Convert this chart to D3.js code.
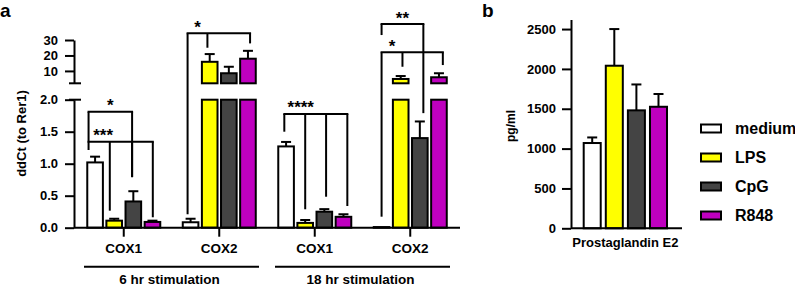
<!DOCTYPE html>
<html><head><meta charset="utf-8">
<script src="https://cdn.jsdelivr.net/npm/d3@7"></script>
<style>
body{margin:0;background:#fff}
svg{display:block}
text{font-family:"Liberation Sans",Arial,sans-serif;font-weight:bold;fill:#000}
</style>
</head><body>
<svg id="chart" width="795" height="287"></svg>
<script>
// ---------- data ----------
const series = ["medium", "LPS", "CpG", "R848"];
const seriesColors = ["#ffffff", "#ffff00", "#444444", "#bf00bf"];
const groups = ["6h COX1", "6h COX2", "18h COX1", "18h COX2"];
const groupLabels = ["COX1", "COX2", "COX1", "COX2"];
const stimulations = ["6 hr stimulation", "18 hr stimulation"];

const mediumVals = [1.02, 0.085, 1.27, 0.01];
const mediumErr  = [0.09, 0.055, 0.07, 0];
const lpsVals    = [0.11, 15.9, 0.075, 4.8];
const lpsErr     = [0.03, 5.0, 0.045, 1.9];
const cpgVals    = [0.41, 8.5, 0.25, 1.40];
const cpgErr     = [0.16, 4.2, 0.04, 0.26];
const r848Vals   = [0.09, 17.9, 0.17, 5.9];
const r848Err    = [0.02, 5.1, 0.04, 2.6];

const lowerTicks = [0, 0.5, 1.0, 1.5, 2.0];
const upperTicks = [10, 20, 30];

const pgeVals  = [1070, 2040, 1480, 1525];
const pgeErr   = [70, 460, 325, 160];
const pgeTicks = [0, 500, 1000, 1500, 2000, 2500];

// significance brackets: legs = [seriesIndex, position within bar, leg end value]
const brackets = [
  {group: 0, label: "*",    top: 1.81,  legs: [[0, 0.13, 1.343], [2, 0.43, 0.79]]},
  {group: 0, label: "***",  top: 1.343, legs: [[0, 0.13, 1.214], [1, 0.25, 0.266], [2, 0.43, 0.79], [3, 0.52, 0.163]], dx: 4},
  {group: 1, label: "*",    top: 34.3,  legs: [[0, 0.33, 0.21], [1, 0.37, 25.0], [3, 0.62, 27.8]]},
  {group: 2, label: "****", top: 1.777, legs: [[0, 0.40, 1.5], [1, 0.5, 0.288], [2, 0.6, 0.484], [3, 0.72, 0.339]], dx: 6},
  {group: 3, label: "**",   top: 40.3,  legs: [[0, 0.5, 33.2], [2, 0.7, 1.79]]},
  {group: 3, label: "*",    top: 22.0,  legs: [[0, 0.5, 0.172], [1, 0.6, 12.7], [3, 0.72, 13.8]]}
];

const vals = [mediumVals, lpsVals, cpgVals, r848Vals];
const errs = [mediumErr, lpsErr, cpgErr, r848Err];

// ---------- setup ----------
const svg = d3.select("#chart");
const FONT = '"Liberation Sans", Arial, sans-serif';
const SW = 2;

// ---------- panel a ----------
const x0 = d3.scaleBand().domain(groups).range([76, 458]).paddingInner(0.215).paddingOuter(0.1075);
const x1 = d3.scaleBand().domain(series).range([1, 74]).paddingInner(0.183);
const yLow = d3.scaleLinear().domain([0, 2]).range([227.7, 99.7]);
const yUp = d3.scaleLinear().domain([2, 30]).range([83.3, 40]);
const yv = v => v > 2 ? yUp(v) : yLow(v);
const axX = 74;

const gA = svg.append("g");

groups.forEach((g, gi) => {
  series.forEach((s, si) => {
    const v = vals[si][gi], e = errs[si][gi];
    const x = x0(g) + x1(s), w = x1.bandwidth();
    const segs = v > 2 ? [[yLow(2), yLow(0)], [yUp(v), yUp(2)]] : [[yLow(v), yLow(0)]];
    segs.forEach(([t, b]) => {
      gA.append("rect").attr("x", x).attr("y", t).attr("width", w).attr("height", b - t)
        .attr("fill", seriesColors[si]).attr("stroke", "#000").attr("stroke-width", SW);
    });
    if (e > 0) {
      const cx = x + w / 2;
      gA.append("line").attr("x1", cx).attr("x2", cx).attr("y1", yv(v)).attr("y2", yv(v + e))
        .attr("stroke", "#000").attr("stroke-width", SW);
      gA.append("line").attr("x1", cx - 5).attr("x2", cx + 5).attr("y1", yv(v + e)).attr("y2", yv(v + e))
        .attr("stroke", "#000").attr("stroke-width", SW);
    }
  });
});

// brackets
brackets.forEach(b => {
  const gx = x0(groups[b.group]);
  const xs = b.legs.map(l => gx + x1(series[l[0]]) - 1 + l[1] * (x1.bandwidth() + 2));
  const yt = yv(b.top);
  gA.append("line").attr("x1", d3.min(xs) - 1).attr("x2", d3.max(xs) + 1).attr("y1", yt).attr("y2", yt)
    .attr("stroke", "#000").attr("stroke-width", SW);
  b.legs.forEach((l, i) => {
    gA.append("line").attr("x1", xs[i]).attr("x2", xs[i]).attr("y1", yt).attr("y2", yv(l[2]))
      .attr("stroke", "#000").attr("stroke-width", SW);
  });
  gA.append("text").attr("x", (xs[0] + xs[1]) / 2 + (b.dx || 0)).attr("y", yt - 0.5)
    .attr("text-anchor", "middle").attr("font-size", 17).text(b.label);
});

// y axes (broken)
const axLow = gA.append("g").attr("transform", `translate(${axX},0)`)
  .call(d3.axisLeft(yLow).tickValues(lowerTicks).tickFormat(d3.format(".1f")).tickSize(9).tickPadding(7).tickSizeOuter(0));
const axUp = gA.append("g").attr("transform", `translate(${axX},0)`)
  .call(d3.axisLeft(yUp).tickValues(upperTicks).tickFormat(d3.format("d")).tickSize(9).tickPadding(7).tickSizeOuter(0));
[axLow, axUp].forEach(a => {
  a.attr("font-size", 13).attr("font-family", FONT);
  a.selectAll("path,line").attr("stroke", "#000").attr("stroke-width", SW);
  a.selectAll("text").attr("fill", "#000");
});
[yUp(2), yLow(2)].forEach(yy => {
  gA.append("line").attr("x1", axX - 5).attr("x2", axX + 7).attr("y1", yy).attr("y2", yy)
    .attr("stroke", "#000").attr("stroke-width", SW);
});

// x axis
gA.append("line").attr("x1", axX).attr("x2", 460).attr("y1", yLow(0)).attr("y2", yLow(0))
  .attr("stroke", "#000").attr("stroke-width", SW);
groups.forEach((g, gi) => {
  const cx = x0(g) + x0.bandwidth() / 2;
  gA.append("line").attr("x1", cx).attr("x2", cx).attr("y1", yLow(0)).attr("y2", yLow(0) + 9)
    .attr("stroke", "#000").attr("stroke-width", SW);
  gA.append("text").attr("x", cx).attr("y", 253.3).attr("text-anchor", "middle")
    .attr("font-size", 13.5).text(groupLabels[gi]);
});
stimulations.forEach((s, i) => {
  const c1 = x0(groups[i * 2]) + x0.bandwidth() / 2, c2 = x0(groups[i * 2 + 1]) + x0.bandwidth() / 2;
  const mid = (c1 + c2) / 2;
  gA.append("line").attr("x1", mid - 87.5).attr("x2", mid + 87.5).attr("y1", 266.7).attr("y2", 266.7)
    .attr("stroke", "#000").attr("stroke-width", SW);
  gA.append("text").attr("x", mid - 2).attr("y", 284).attr("text-anchor", "middle")
    .attr("font-size", 13.5).text(s);
});

gA.append("text").attr("transform", "translate(26,133.5) rotate(-90)").attr("text-anchor", "middle")
  .attr("font-size", 13).text("ddCt (to Rer1)");
svg.append("text").attr("x", 0).attr("y", 17).attr("font-size", 19).text("a");

// ---------- panel b ----------
const gB = svg.append("g");
const xB = d3.scaleBand().domain(series).range([583.7, 667]).paddingInner(0.23);
const yB = d3.scaleLinear().domain([0, 2620]).range([228.3, 19.5]);
const axBX = 571;

series.forEach((s, si) => {
  const x = xB(s), w = xB.bandwidth(), v = pgeVals[si], e = pgeErr[si];
  gB.append("rect").attr("x", x).attr("y", yB(v)).attr("width", w).attr("height", yB(0) - yB(v))
    .attr("fill", seriesColors[si]).attr("stroke", "#000").attr("stroke-width", SW);
  const cx = x + w / 2;
  gB.append("line").attr("x1", cx).attr("x2", cx).attr("y1", yB(v)).attr("y2", yB(v + e))
    .attr("stroke", "#000").attr("stroke-width", SW);
  gB.append("line").attr("x1", cx - 5).attr("x2", cx + 5).attr("y1", yB(v + e)).attr("y2", yB(v + e))
    .attr("stroke", "#000").attr("stroke-width", SW);
});

const axB = gB.append("g").attr("transform", `translate(${axBX},0)`)
  .call(d3.axisLeft(yB).tickValues(pgeTicks).tickFormat(d3.format("d")).tickSize(9).tickPadding(6).tickSizeOuter(0));
axB.attr("font-size", 13).attr("font-family", FONT);
axB.selectAll("path,line").attr("stroke", "#000").attr("stroke-width", SW);
axB.selectAll("text").attr("fill", "#000");
gB.append("line").attr("x1", axBX).attr("x2", 682).attr("y1", yB(0)).attr("y2", yB(0))
  .attr("stroke", "#000").attr("stroke-width", SW);
gB.append("text").attr("x", (xB.range()[0] + xB.range()[1]) / 2).attr("y", 246.5)
  .attr("text-anchor", "middle").attr("font-size", 13).text("Prostaglandin E2");
gB.append("text").attr("transform", "translate(515,126) rotate(-90)").attr("text-anchor", "middle")
  .attr("font-size", 12).text("pg/ml");
svg.append("text").attr("x", 482).attr("y", 17).attr("font-size", 19).text("b");

// legend
const leg = svg.append("g");
series.forEach((s, i) => {
  const cy = 128.5 + i * 29;
  leg.append("rect").attr("x", 701).attr("y", cy - 4).attr("width", 20).attr("height", 8)
    .attr("fill", seriesColors[i]).attr("stroke", "#000").attr("stroke-width", SW);
  leg.append("text").attr("x", 735).attr("y", cy).attr("dy", "0.36em").attr("font-size", 16).text(s);
});
</script>
</body></html>
